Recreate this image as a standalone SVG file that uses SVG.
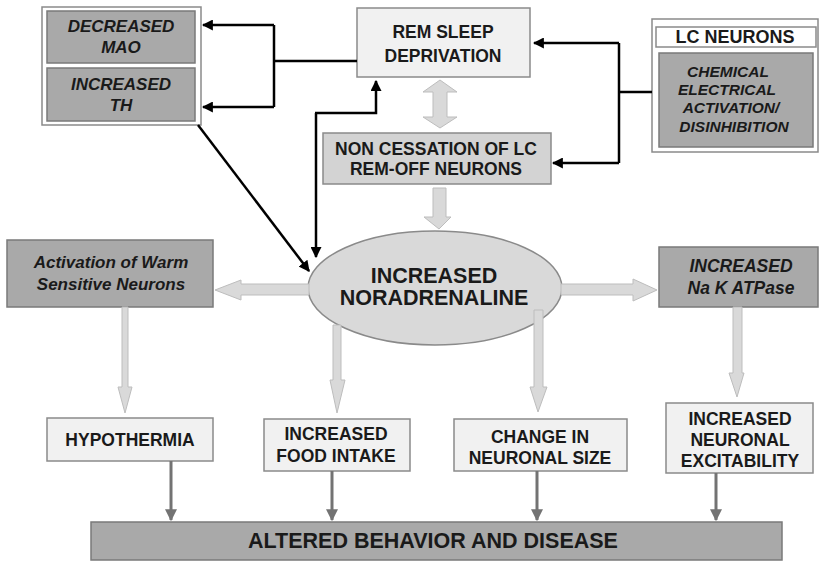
<svg xmlns="http://www.w3.org/2000/svg" width="819" height="562" viewBox="0 0 819 562">
<style>
text{font-family:"Liberation Sans",Arial,sans-serif;font-weight:bold;fill:#1a1a1a;text-anchor:middle}
.it{font-style:italic}
.light{fill:#f1f1f1;stroke:#8a8a8a;stroke-width:1.5}
.mid{fill:#d3d3d3;stroke:#8a8a8a;stroke-width:1.5}
.dark{fill:#a9a9a9;stroke:#7a7a7a;stroke-width:1.5}
.outer{fill:#fff;stroke:#8a8a8a;stroke-width:1.5}
.blk{fill:none;stroke:#000;stroke-width:2.5}
.gry{fill:none;stroke:#737373;stroke-width:3}
.fat{fill:#d9d9d9;stroke:#bdbdbd;stroke-width:1}
</style>
<defs>
<marker id="ab" viewBox="0 0 10 10" refX="9" refY="5" markerWidth="4.4" markerHeight="4.4" orient="auto" markerUnits="strokeWidth"><path d="M0,0 L10,5 L0,10 z" fill="#000"/></marker>
<marker id="ag" viewBox="0 0 10 10" refX="9" refY="5" markerWidth="4" markerHeight="4" orient="auto" markerUnits="strokeWidth"><path d="M0,0 L10,5 L0,10 z" fill="#737373"/></marker>
</defs>
<rect width="819" height="562" fill="#fff"/>

<g id="maoth">
<rect class="outer" x="42" y="7" width="159" height="118"/>
<rect class="dark" x="47" y="11" width="148" height="52"/>
<text class="it" x="121" y="32" font-size="17">DECREASED</text>
<text class="it" x="121" y="53" font-size="17">MAO</text>
<rect class="dark" x="47" y="68" width="148" height="53"/>
<text class="it" x="121" y="90" font-size="17">INCREASED</text>
<text class="it" x="121" y="111" font-size="17">TH</text>
</g>

<g id="rem">
<rect class="light" x="357" y="8" width="173" height="69"/>
<text x="443" y="38" font-size="17.5">REM SLEEP</text>
<text x="443" y="62" font-size="17.5">DEPRIVATION</text>
</g>

<g id="lc">
<rect class="outer" x="652" y="19" width="166" height="133"/>
<rect class="outer" x="656" y="27" width="160" height="20"/>
<text x="735" y="43" font-size="18">LC NEURONS</text>
<rect class="dark" x="659" y="53" width="154" height="94"/>
<text class="it" x="728" y="77" font-size="15.5">CHEMICAL</text>
<text class="it" x="727" y="95" font-size="15.5">ELECTRICAL</text>
<text class="it" x="731" y="113" font-size="15.5">ACTIVATION/</text>
<text class="it" x="734" y="132" font-size="15.5">DISINHIBITION</text>
</g>

<g id="noncess">
<rect class="mid" x="323" y="133" width="228" height="51"/>
<text x="436" y="155" font-size="17.5">NON CESSATION OF LC</text>
<text x="436" y="175" font-size="17.5">REM-OFF NEURONS</text>
</g>

<g id="ne">
<ellipse cx="435" cy="288" rx="127" ry="57" fill="#d9d9d9" stroke="#8a8a8a" stroke-width="1.5"/>
<text x="434" y="283" font-size="21.5">INCREASED</text>
<text x="434" y="305" font-size="21.5">NORADRENALINE</text>
</g>

<g id="warm">
<rect class="dark" x="7" y="240" width="206" height="67"/>
<text class="it" x="111" y="268" font-size="17">Activation of Warm</text>
<text class="it" x="111" y="290" font-size="17">Sensitive Neurons</text>
</g>

<g id="nak">
<rect class="dark" x="659" y="247" width="159" height="60"/>
<text class="it" x="741" y="272" font-size="17.5">INCREASED</text>
<text class="it" x="741" y="294" font-size="17.5">Na K ATPase</text>
</g>

<g id="hypo">
<rect class="light" x="47" y="418" width="166" height="43"/>
<text x="130" y="446" font-size="17.5">HYPOTHERMIA</text>
</g>

<g id="food">
<rect class="light" x="264" y="419" width="146" height="52"/>
<text x="336" y="440" font-size="17.5">INCREASED</text>
<text x="336" y="462" font-size="17.5">FOOD INTAKE</text>
</g>

<g id="size">
<rect class="light" x="454" y="419" width="173" height="52"/>
<text x="540" y="443" font-size="17.5">CHANGE IN</text>
<text x="540" y="464" font-size="17.5">NEURONAL SIZE</text>
</g>

<g id="excit">
<rect class="light" x="666" y="403" width="147" height="70"/>
<text x="740" y="425" font-size="17.5">INCREASED</text>
<text x="740" y="446" font-size="17.5">NEURONAL</text>
<text x="740" y="467" font-size="17.5">EXCITABILITY</text>
</g>

<g id="altered">
<rect class="dark" x="91" y="522" width="691" height="38"/>
<text x="433" y="548" font-size="21.5">ALTERED BEHAVIOR AND DISEASE</text>
</g>

<g id="connectors">
<!-- REM -> MAO / TH -->
<path class="blk" d="M357,61 H274"/>
<path class="blk" d="M274,25 V107"/>
<path class="blk" d="M274,25 H203" marker-end="url(#ab)"/>
<path class="blk" d="M274,107 H203" marker-end="url(#ab)"/>
<!-- MAO/TH -> NE -->
<path class="blk" d="M198,125 L309,271" marker-end="url(#ab)"/>
<!-- NE <-> REM -->
<path class="blk" d="M316,113 V257" marker-end="url(#ab)"/>
<path class="blk" d="M315,113 H376 V81" marker-end="url(#ab)"/>
<!-- LC -> REM / NON -->
<path class="blk" d="M652,92 H619"/>
<path class="blk" d="M619,43 V163"/>
<path class="blk" d="M619,43 H534" marker-end="url(#ab)"/>
<path class="blk" d="M619,163 H553" marker-end="url(#ab)"/>

<!-- thick light arrows -->
<path class="fat" d="M440,80 L457,92 L447,92 L447,117 L457,117 L440,128 L423,117 L433,117 L433,92 L423,92 Z"/>
<path class="fat" d="M433,188 L446,188 L446,217 L451,217 L439,229 L424,217 L433,217 Z"/>
<path class="fat" d="M309,284 L241,284 L241,280 L215,290 L241,300 L241,295 L309,295 Z"/>
<path class="fat" d="M561,284 L633,284 L633,279 L657,290 L633,301 L633,295 L561,295 Z"/>
<path class="fat" d="M122,307 L128,307 L128,387 L132,387 L125,413 L118,387 L122,387 Z"/>
<path class="fat" d="M333,325 L341,325 L341,380 L345,380 L337,413 L330,380 L333,380 Z"/>
<path class="fat" d="M534,310 L543,310 L543,387 L547,387 L538,412 L530,387 L534,387 Z"/>
<path class="fat" d="M733,307 L742,307 L742,373 L744,373 L737,397 L729,373 L733,373 Z"/>

<!-- bottom arrows -->
<path class="gry" d="M171,461 V520" marker-end="url(#ag)"/>
<path class="gry" d="M332,471 V520" marker-end="url(#ag)"/>
<path class="gry" d="M537,471 V520" marker-end="url(#ag)"/>
<path class="gry" d="M716,473 V520" marker-end="url(#ag)"/>
</g>
</svg>
